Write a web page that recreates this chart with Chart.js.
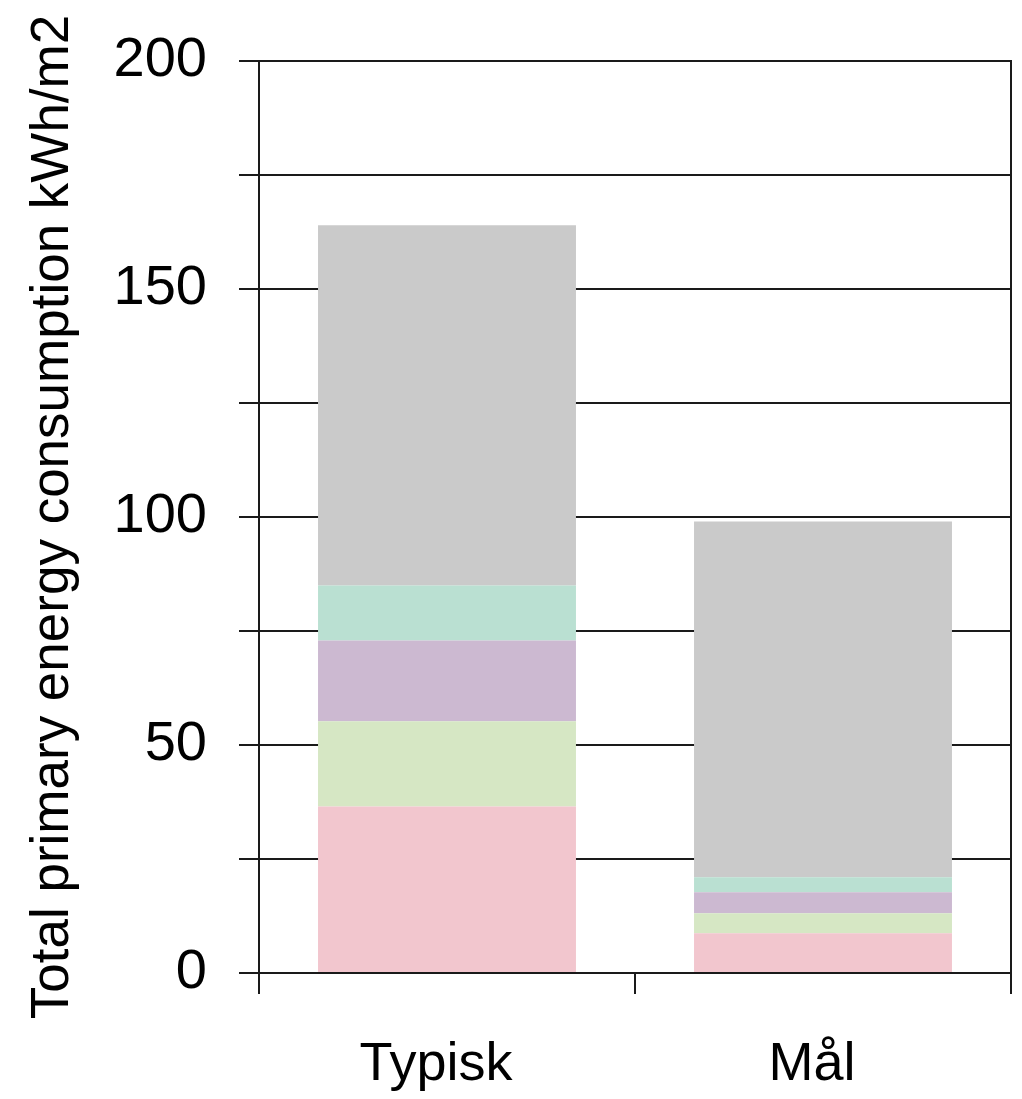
<!DOCTYPE html>
<html>
<head>
<meta charset="utf-8">
<title>Total primary energy consumption</title>
<script src="https://cdn.jsdelivr.net/npm/chart.js@4/dist/chart.umd.min.js"></script>
<style>
    html, body { margin: 0; padding: 0; background: #fff; }
    #wrap { width: 1022px; height: 1099px; position: relative; }
</style>
</head>
<body>
<div id="wrap"><canvas id="chart"></canvas></div>
<script>
// Stacked values, bottom segment first
const categories = ['Typisk', 'Mål'];
const pinkValues = [36.5, 8.7];
const greenValues = [18.7, 4.4];
const purpleValues = [17.7, 4.6];
const tealValues = [12.1, 3.3];
const grayValues = [79.0, 78.0];

const yTicksMin = 0;
const yTicksMax = 200;
const yStep = 25;       // grid lines every 25
const yLabelStep = 50;  // labels every 50

// no narrow face installed, so regular Liberation Sans at a smaller size
const FONT = "'Liberation Sans Narrow', 'Arial Narrow', 'Liberation Sans', Arial, sans-serif";
const LINE = '#1a1a1a';

const seriesList = [
    { label: 'Serie 1', data: pinkValues, color: '#F2C6CE' },
    { label: 'Serie 2', data: greenValues, color: '#D6E7C4' },
    { label: 'Serie 3', data: purpleValues, color: '#CCB9D1' },
    { label: 'Serie 4', data: tealValues, color: '#BAE0D2' },
    { label: 'Serie 5', data: grayValues, color: '#CACACA' }
];

const datasets = seriesList.map(s => ({
    label: s.label,
    data: s.data,
    backgroundColor: s.color,
    borderWidth: 0,
    categoryPercentage: 1.0,
    barPercentage: 0.686
}));

const ctx = document.getElementById('chart').getContext('2d');

new Chart(ctx, {
    type: 'bar',
    data: { labels: categories, datasets },
    options: {
        responsive: true,
        maintainAspectRatio: false,
        animation: false,
        layout: { padding: { top: 61, right: 11, left: 0, bottom: 0 } },
        plugins: {
            legend: { display: false },
            tooltip: { enabled: false }
        },
        scales: {
            x: {
                stacked: true,
                afterFit: s => { s.height = 126; },
                grid: {
                    offset: true,
                    drawOnChartArea: false,
                    drawTicks: true,
                    tickLength: 21,
                    color: LINE,
                    lineWidth: 2
                },
                border: { display: true, color: LINE, width: 2 },
                ticks: {
                    color: '#000',
                    padding: 39,
                    labelOffset: -11,
                    font: { family: FONT, size: 54 }
                }
            },
            y: {
                stacked: true,
                min: yTicksMin,
                max: yTicksMax,
                afterFit: s => { s.width = 259; },
                grid: {
                    color: LINE,
                    lineWidth: 2,
                    drawTicks: true,
                    tickLength: 20
                },
                border: { display: true, color: LINE, width: 2 },
                ticks: {
                    stepSize: yStep,
                    autoSkip: false,
                    color: '#000',
                    padding: 32,
                    // lineHeight 1 keeps the top label from pushing the plot down
                    font: { family: FONT, size: 56, lineHeight: 1 },
                    callback: v => (v % yLabelStep === 0 ? String(v) : '')
                },
                title: {
                    display: true,
                    text: 'Total primary energy consumption kWh/m2',
                    color: '#000',
                    padding: { top: 22, bottom: 0 },
                    font: { family: FONT, size: 53, weight: 'normal' }
                }
            },
            // right-hand frame line only
            yRight: {
                position: 'right',
                min: yTicksMin,
                max: yTicksMax,
                afterFit: s => { s.width = 0; },
                grid: { display: false },
                ticks: { display: false },
                border: { display: true, color: LINE, width: 2 }
            }
        }
    }
});
</script>
</body>
</html>
